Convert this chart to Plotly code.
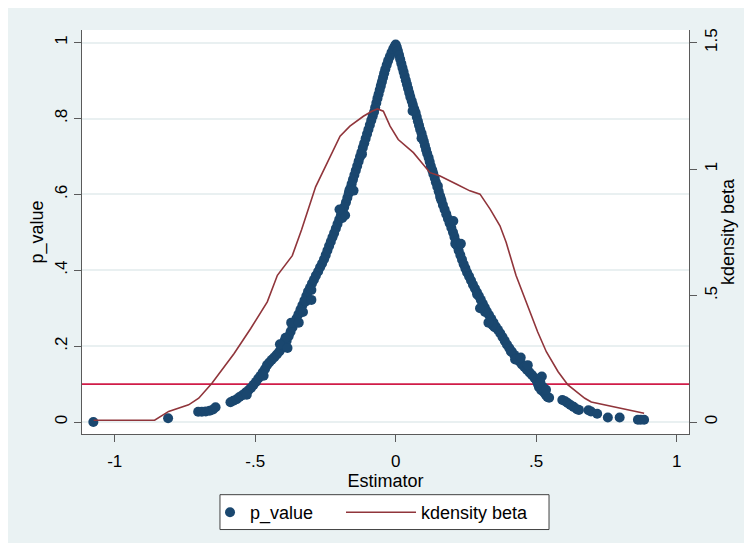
import plotly.graph_objects as go

# ---- data ----
# p_value scatter (estimator, p_value)
est_left = [-1.076, -0.810, -0.703, -0.690, -0.676, -0.662, -0.650, -0.641,
            -0.588, -0.578, -0.566, -0.556, -0.545, -0.534, -0.524, -0.515,
            -0.506, -0.497, -0.489, -0.481, -0.473, -0.465, -0.458,
            -0.450, -0.441, -0.432, -0.423, -0.414, -0.406, -0.398, -0.405, -0.390, -0.395,
            -0.388, -0.381, -0.374, -0.367, -0.360, -0.353,
            -0.346, -0.339, -0.332, -0.325, -0.318, -0.312,
            -0.305, -0.298, -0.291, -0.284, -0.276, -0.269, -0.262, -0.255,
            -0.249, -0.243, -0.237, -0.231, -0.225, -0.219, -0.213,
            -0.207, -0.201, -0.195, -0.189, -0.183, -0.177,
            -0.172, -0.167, -0.162, -0.157, -0.152, -0.147, -0.142,
            -0.137, -0.132, -0.127, -0.122, -0.117, -0.112, -0.107,
            -0.102, -0.097, -0.092, -0.087, -0.082, -0.077,
            -0.073, -0.069, -0.065, -0.061, -0.057, -0.053,
            -0.049, -0.045, -0.041, -0.037, -0.032, -0.027, -0.021, -0.015, -0.009, -0.004, 0.000,
            -0.392, -0.320, -0.300, -0.190, -0.165, -0.120, -0.470, -0.530,
            -0.412, -0.385, -0.372, -0.345, -0.330, -0.300, -0.180, -0.200, -0.150]
pval_left = [0.000, 0.010, 0.027, 0.027, 0.028, 0.030, 0.033, 0.039,
             0.052, 0.056, 0.060, 0.066, 0.071, 0.078, 0.084, 0.090,
             0.098, 0.106, 0.115, 0.122, 0.131, 0.140, 0.150,
             0.157, 0.164, 0.171, 0.178, 0.186, 0.194, 0.202, 0.205, 0.198, 0.215,
             0.214, 0.226, 0.238, 0.250, 0.262, 0.273,
             0.284, 0.296, 0.308, 0.320, 0.332, 0.344,
             0.354, 0.365, 0.375, 0.386, 0.397, 0.408, 0.418, 0.429,
             0.440, 0.452, 0.464, 0.475, 0.487, 0.498, 0.510,
             0.522, 0.534, 0.545, 0.556, 0.567, 0.579,
             0.591, 0.603, 0.615, 0.627, 0.639, 0.651, 0.663,
             0.675, 0.687, 0.699, 0.711, 0.723, 0.735, 0.747,
             0.759, 0.771, 0.783, 0.795, 0.806, 0.817,
             0.829, 0.841, 0.853, 0.864, 0.875, 0.886,
             0.897, 0.908, 0.919, 0.930, 0.941, 0.952, 0.963, 0.974, 0.983, 0.990, 0.995,
             0.222, 0.318, 0.348, 0.538, 0.610, 0.706, 0.122, 0.072,
             0.205, 0.195, 0.262, 0.262, 0.290, 0.322, 0.545, 0.560, 0.610]
est_right = [0.004, 0.008, 0.012, 0.016, 0.020, 0.024, 0.028, 0.032, 0.036, 0.040,
             0.044, 0.048, 0.052, 0.057, 0.061, 0.066, 0.071, 0.075, 0.079, 0.083,
             0.087, 0.092, 0.096, 0.100, 0.104, 0.108, 0.112, 0.117, 0.121, 0.125,
             0.130, 0.134, 0.139, 0.143, 0.148, 0.153, 0.158, 0.163, 0.168, 0.174,
             0.180, 0.186, 0.192, 0.198, 0.204, 0.209, 0.214, 0.219, 0.224, 0.230,
             0.236, 0.242, 0.248, 0.254, 0.261, 0.268, 0.275, 0.282, 0.289, 0.296,
             0.303, 0.310, 0.317, 0.324, 0.332, 0.340, 0.348, 0.356, 0.364, 0.372,
             0.380, 0.388, 0.396, 0.404, 0.413, 0.422, 0.431, 0.440, 0.449, 0.458,
             0.467, 0.476, 0.485, 0.494, 0.502, 0.506, 0.510, 0.514, 0.518, 0.524,
             0.528, 0.534, 0.540, 0.546,
             0.593, 0.603, 0.612, 0.622, 0.633, 0.645, 0.652, 0.686, 0.695, 0.717,
             0.755, 0.797, 0.862, 0.872, 0.884,
             0.092, 0.150, 0.212, 0.290, 0.352, 0.410, 0.060,
             0.318, 0.300, 0.345, 0.330, 0.425, 0.445, 0.470, 0.520, 0.515, 0.535,
             0.205, 0.232, 0.160]
pval_right = [0.988, 0.978, 0.967, 0.956, 0.945, 0.934, 0.923, 0.912, 0.901, 0.890,
              0.879, 0.868, 0.857, 0.846, 0.836, 0.825, 0.815, 0.804, 0.793, 0.782,
              0.771, 0.761, 0.750, 0.740, 0.729, 0.718, 0.708, 0.697, 0.686, 0.675,
              0.664, 0.654, 0.643, 0.632, 0.620, 0.608, 0.596, 0.584, 0.572, 0.560,
              0.548, 0.536, 0.524, 0.512, 0.500, 0.488, 0.476, 0.464, 0.452, 0.440,
              0.428, 0.416, 0.405, 0.394, 0.384, 0.373, 0.362, 0.352, 0.342, 0.332,
              0.322, 0.312, 0.302, 0.292, 0.282, 0.272, 0.262, 0.252, 0.243, 0.234,
              0.224, 0.214, 0.204, 0.195, 0.186, 0.177, 0.168, 0.160, 0.152, 0.145,
              0.138, 0.131, 0.124, 0.116, 0.108, 0.100, 0.092, 0.116, 0.084, 0.092,
              0.078, 0.072, 0.066, 0.064,
              0.058, 0.055, 0.050, 0.045, 0.040, 0.034, 0.032, 0.031, 0.028, 0.022,
              0.012, 0.012, 0.006, 0.006, 0.006,
              0.748, 0.622, 0.470, 0.336, 0.250, 0.186, 0.820,
              0.290, 0.300, 0.255, 0.262, 0.165, 0.170, 0.150, 0.120, 0.104, 0.085,
              0.530, 0.470, 0.590]
estimator = est_left + est_right
p_value = pval_left + pval_right

# kernel density of beta (right axis)
kd_x = [-1.075, -0.858, -0.808, -0.737, -0.701, -0.654, -0.575, -0.516, -0.457, -0.421,
        -0.368, -0.335, -0.285, -0.255, -0.198, -0.163, -0.115, -0.085, -0.065, -0.044,
        -0.020, 0.009, 0.063, 0.122, 0.158, 0.217, 0.264, 0.300, 0.336, 0.371,
        0.393, 0.428, 0.464, 0.505, 0.536, 0.578, 0.613, 0.673, 0.696, 0.755,
        0.815, 0.884]
kd_y = [0.007, 0.007, 0.042, 0.068, 0.094, 0.153, 0.271, 0.370, 0.475, 0.580,
        0.658, 0.760, 0.930, 1.000, 1.130, 1.170, 1.209, 1.229, 1.238, 1.229,
        1.170, 1.117, 1.065, 0.986, 0.973, 0.940, 0.914, 0.901, 0.842, 0.776,
        0.711, 0.580, 0.475, 0.357, 0.278, 0.199, 0.147, 0.094, 0.079, 0.066,
        0.052, 0.035]

p_line = 0.1

x_ticks = [-1, -0.5, 0, 0.5, 1]
x_tick_labels = ["-1", "-.5", "0", ".5", "1"]
y_ticks = [0, 0.2, 0.4, 0.6, 0.8, 1]
y_tick_labels = ["0", ".2", ".4", ".6", ".8", "1"]
y2_ticks = [0, 0.5, 1, 1.5]
y2_tick_labels = ["0", ".5", "1", "1.5"]

NAVY = "#1a476f"
MAROON = "#90353b"
LINE_RED = "#d01c48"
BG = "#eaf2f3"
AXIS = "#5a5a5a"
FONT = "Liberation Sans, Arial, sans-serif"

fig = go.Figure()
fig.add_trace(go.Scatter(x=estimator, y=p_value, mode="markers", name="p_value",
                         legend="legend",
                         marker=dict(color=NAVY, size=10, line=dict(width=0))))
fig.add_trace(go.Scatter(x=kd_x, y=kd_y, mode="lines", name="kdensity beta",
                         legend="legend2",
                         yaxis="y2", line=dict(color=MAROON, width=1.6)))

shapes = [
    dict(type="line", xref="paper", yref="y", x0=0, x1=1, y0=p_line, y1=p_line,
         line=dict(color=LINE_RED, width=1.8), layer="below"),
    # legend frame
    dict(type="rect", xref="paper", yref="paper", x0=0.2273, x1=0.7694, y0=-0.2365, y1=-0.1502,
         fillcolor="white", line=dict(color="#404040", width=1), layer="below"),
]

legend_common = dict(orientation="h", yanchor="middle", y=-0.1946, xanchor="left",
                     bgcolor="rgba(0,0,0,0)", borderwidth=0, font=dict(size=18))

fig.update_layout(
    width=744, height=535,
    margin=dict(l=74, r=63, t=22, b=107),
    paper_bgcolor=BG, plot_bgcolor="white",
    font=dict(family=FONT, size=17, color="black"),
    shapes=shapes,
    showlegend=True,
    legend=dict(**legend_common, x=0.2109, itemwidth=30),
    legend2=dict(**legend_common, x=0.4267, itemwidth=70),
    xaxis=dict(range=[-1.1164, 1.0438], tickvals=x_ticks, ticktext=x_tick_labels,
               showgrid=False, zeroline=False, showline=True, linecolor=AXIS, linewidth=1,
               ticks="outside", ticklen=7, tickcolor=AXIS, ticklabelstandoff=5,
               title=dict(text="Estimator", font=dict(size=18), standoff=0)),
    yaxis=dict(range=[-0.0315, 1.0333], tickvals=y_ticks, ticktext=y_tick_labels,
               tickangle=-90, showgrid=True, gridcolor="#e9f0f1", gridwidth=2,
               zeroline=False, showline=True, linecolor=AXIS, linewidth=1,
               ticks="outside", ticklen=7, tickcolor=AXIS,
               title=dict(text="p_value", font=dict(size=18), standoff=3)),
    yaxis2=dict(range=[-0.0473, 1.55], tickvals=y2_ticks, ticktext=y2_tick_labels,
                tickangle=-90, overlaying="y", side="right", showgrid=False,
                zeroline=False, showline=True, linecolor=AXIS, linewidth=1,
                ticks="outside", ticklen=7, tickcolor=AXIS,
                title=dict(text="kdensity beta", font=dict(size=18), standoff=0)),
)

fig.write_html("out.html")
